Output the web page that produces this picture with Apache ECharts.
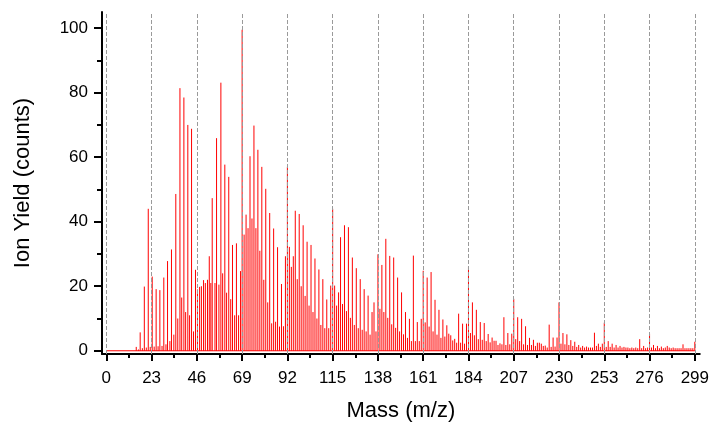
<!DOCTYPE html>
<html>
<head>
<meta charset="utf-8">
<script src="https://cdn.jsdelivr.net/npm/echarts@6/dist/echarts.min.js"></script>
<style>
    html, body { margin: 0; padding: 0; background: #fff; }
    #chart { width: 712px; height: 427px; }
</style>
</head>
<body>
<div id="chart"></div>
<script>
// tick labels
var xTicks = [0, 23, 46, 69, 92, 115, 138, 161, 184, 207, 230, 253, 276, 299];
var xMinorTicks = [11.5, 34.5, 57.5, 80.5, 103.5, 126.5, 149.5, 172.5, 195.5, 218.5, 241.5, 264.5, 287.5];
var yTicks = [0, 20, 40, 60, 80, 100];
var yMinorTicks = [10, 30, 50, 70, 90];

// baseline of the spectrum
var baseMass = [0, 299];
var baseYield = [0, 0];

// tall cluster peaks
var peakMass = [33.1, 35.3, 37.4, 39.4, 41.4, 43.3, 47.4, 49.4, 52.3, 53.8, 56, 58.2, 60.2, 62.2, 64.1, 66.1,
    71, 73, 75, 77, 79, 81, 83, 85, 87, 89, 91, 93, 95, 96, 98, 100, 102, 104, 106, 108, 110,
    112, 114, 116, 118, 119, 121, 123, 125, 127, 129, 131, 133, 135, 136,
    140, 142, 144, 146, 148, 150, 152, 154];
var peakYield = [31.4, 48.6, 81.4, 78.5, 70, 68.8, 19.8, 21.9, 29.3, 47.3, 65.9, 83.1, 57.7, 53.9, 32.8, 33.3,
    42.2, 60.3, 69.8, 62.3, 57, 50.2, 42.7, 37.9, 32.1, 20.7, 29.3, 32.2, 29.3, 43.4, 42.4, 38.9, 33.8, 32.8, 28.6, 25.2, 22.2,
    15.9, 20.2, 20.2, 18.1, 35.2, 38.9, 38.3, 28.9, 25.6, 22.2, 19.1, 17.1, 12, 15,
    26.6, 34.7, 29.4, 28.9, 22.7, 18.1, 12, 9.9];

// all other sticks
var lineMass = [15.2, 16.3, 17.2, 18.3, 19.3, 20.3, 21.3, 22.3, 23.3, 24.3, 25.3, 26.3, 27.2, 28.3, 29.2, 30.3, 31.1, 32.3,
    34.3, 36.3, 38.3, 40.3, 42.3, 44.3, 45.3, 46.3, 48.3, 50.3, 51.4, 53.1, 55.2, 57.2, 59.1, 61.1, 63.2, 65.2, 67.2, 68.2,
    69, 70, 72, 74, 76, 78, 80, 82, 84, 86, 88, 90,
    92, 94, 97, 99, 101, 103, 105, 107, 109, 111, 113, 115, 117, 120, 122, 124, 126, 128, 130, 132, 134, 137,
    138, 139, 141, 143, 145, 147, 149, 151, 153, 155, 156, 157, 158, 159, 160, 161, 162, 163, 164, 165,
    166, 167, 168, 169, 170, 171, 172, 173, 174, 175, 176, 177, 178, 179, 180, 181, 182, 183, 184, 185,
    186, 187, 188, 189, 190, 191, 192, 193, 194, 195, 196, 197, 198, 199, 200, 201, 202, 203, 204, 205,
    206, 207, 208, 209, 210, 211, 212, 213, 214, 215, 216, 217, 218, 219, 220, 221, 222, 223, 224, 225,
    226, 227, 228, 229, 230, 231, 232, 233, 234, 235, 236, 237, 238, 239, 240, 241, 242, 243, 244, 245,
    246, 247, 248, 249, 250, 251, 252, 253, 254, 255, 256, 257, 258, 259, 260, 261, 262, 263, 264, 265,
    266, 267, 268, 269, 270, 271, 272, 273, 274, 275, 276, 277, 278, 279, 280, 281, 282, 283, 284, 285,
    286, 287, 288, 289, 290, 291, 292, 293, 294, 295, 296, 297, 298, 299];
var lineYield = [1.2, 0.4, 5.7, 0.8, 19.9, 1, 44, 1.2, 23, 1.3, 19.1, 1.4, 18.8, 1.5, 22.7, 2, 27.8, 3,
    5, 10, 16.5, 12, 11, 6, 25.1, 19, 20, 21, 22, 21, 21, 20.5, 24, 18, 16, 11, 11, 24.7,
    99.5, 36, 38, 41, 38, 31, 22, 15, 8.5, 9, 7.5, 7.6,
    57, 26, 22.2, 20, 17, 14, 12, 10, 8, 7, 7, 44, 14, 14.5, 12.3, 10.2, 8, 7, 6.5, 6, 5, 6,
    29.9, 13, 12, 10.2, 8.2, 7.1, 6, 5.1, 4, 3, 29.5, 3, 8.9, 3, 9.9, 24.8, 8.8, 22.7, 7.5, 24.4,
    6, 15.8, 5, 12.7, 4, 9.7, 4.4, 7.9, 5.3, 4.8, 3.2, 3.7, 2.5, 11.5, 2.5, 8.4, 2.2, 8.4, 26.1, 5.5,
    15, 4.8, 12.7, 3.6, 8.9, 3.4, 8.6, 3, 5.2, 2.6, 4.1, 3.1, 3.1, 1.8, 2.3, 2, 10.4, 1.8, 5.5, 2,
    5.3, 16.1, 3.6, 10.4, 3, 9.9, 2, 7.6, 1.8, 4, 1.8, 3.4, 1.5, 2.5, 2.5, 2.2, 1.5, 1.6, 1, 8.1,
    1.2, 4.1, 1.3, 4.1, 15, 2.2, 5.5, 2, 5.1, 1.8, 3.3, 1.5, 2.8, 1.2, 1.8, 1, 1.5, 1, 1.3, 1,
    1, 1, 5.6, 1.5, 2.2, 1.2, 2.2, 8.7, 1.2, 3, 1.2, 2.2, 1, 1.8, 1, 1.5, 1, 1.2, 1, 1,
    0.8, 1, 0.8, 1, 0.8, 3.6, 0.8, 1.5, 0.8, 1, 5.3, 1, 1.8, 0.8, 1.5, 0.8, 1.3, 0.8, 1, 1.5,
    1, 0.8, 1, 0.8, 0.8, 0.8, 0.8, 2, 0.8, 0.8, 0.8, 0.8, 0.8, 2.8];

var fontFamily = "'Liberation Sans', Arial, sans-serif";

function zip(a, b) {
    return a.map(function (v, i) { return [v, b[i]]; });
}

// one vertical stick from 0 up to the value
function renderStick(params, api) {
    var top = api.coord([api.value(0), api.value(1)]);
    var bottom = api.coord([api.value(0), 0]);
    return {
        type: 'line',
        shape: { x1: top[0], y1: bottom[1], x2: top[0], y2: top[1] },
        style: { stroke: '#ff0000', lineWidth: 1 }
    };
}

var dom = document.getElementById('chart');
var chart = echarts.init(dom, null, { renderer: 'canvas' });

chart.setOption({
    animation: false,
    textStyle: { fontFamily: fontFamily },
    grid: { left: 102, right: 12, top: 12, bottom: 70 },
    xAxis: [
        {
            type: 'value',
            position: 'bottom',
            min: -2.2,
            max: 301.5,
            name: 'Mass (m/z)',
            nameLocation: 'middle',
            nameGap: 46,
            nameTextStyle: { fontSize: 22, color: '#000', fontFamily: fontFamily },
            axisLine: { onZero: false, lineStyle: { color: '#000', width: 2 } },
            axisTick: { customValues: xTicks, length: 7, lineStyle: { color: '#000', width: 2 } },
            axisLabel: { customValues: xTicks, fontSize: 17, color: '#000', margin: 16, fontFamily: fontFamily },
            splitLine: { show: false }
        },
        {
            type: 'value',
            position: 'bottom',
            min: -2.2,
            max: 301.5,
            axisLine: { show: false, onZero: false },
            axisTick: { customValues: xMinorTicks, length: 4, lineStyle: { color: '#000', width: 2 } },
            axisLabel: { show: false },
            splitLine: { show: false }
        }
    ],
    yAxis: [
        {
            type: 'value',
            position: 'left',
            min: -1,
            max: 105,
            name: 'Ion Yield (counts)',
            nameLocation: 'middle',
            nameGap: 68,
            nameTextStyle: { fontSize: 22, color: '#000', fontFamily: fontFamily },
            axisLine: { show: true, onZero: false, lineStyle: { color: '#000', width: 2 } },
            axisTick: { show: true, customValues: yTicks, length: 8, lineStyle: { color: '#000', width: 2 } },
            axisLabel: { customValues: yTicks, fontSize: 17, color: '#000', margin: 14, fontFamily: fontFamily },
            splitLine: { show: false }
        },
        {
            type: 'value',
            position: 'left',
            min: -1,
            max: 105,
            axisLine: { show: false, onZero: false },
            axisTick: { show: true, customValues: yMinorTicks, length: 5, lineStyle: { color: '#000', width: 2 } },
            axisLabel: { show: false },
            splitLine: { show: false }
        }
    ],
    series: [
        {
            name: 'baseline',
            type: 'line',
            data: zip(baseMass, baseYield),
            showSymbol: false,
            lineStyle: { color: '#ff0000', width: 1 },
            z: 1,
            markLine: {
                silent: true,
                symbol: 'none',
                label: { show: false },
                lineStyle: { color: '#9a9a9a', type: [4, 2], width: 1 },
                data: xTicks.map(function (v) { return { xAxis: v }; })
            }
        },
        {
            name: 'peaks',
            type: 'custom',
            coordinateSystem: 'cartesian2d',
            renderItem: renderStick,
            encode: { x: 0, y: 1 },
            data: zip(peakMass, peakYield),
            z: 2
        },
        {
            name: 'lines',
            type: 'custom',
            coordinateSystem: 'cartesian2d',
            renderItem: renderStick,
            encode: { x: 0, y: 1 },
            data: zip(lineMass, lineYield),
            z: 3
        }
    ]
});

window.addEventListener('resize', chart.resize);
</script>
</body>
</html>
